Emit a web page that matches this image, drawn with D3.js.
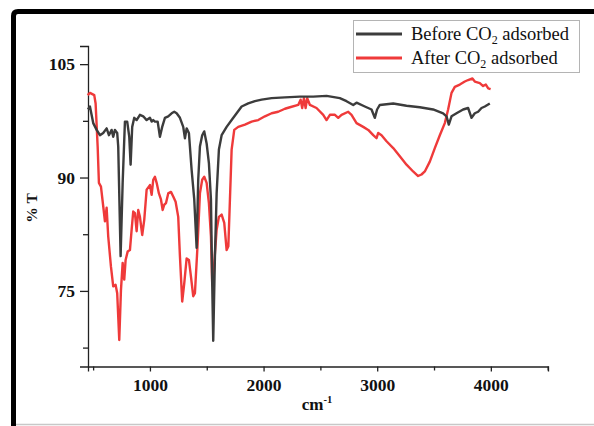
<html>
<head>
<script src="https://d3js.org/d3.v7.min.js"></script>
<style>
  body { margin: 0; background: #fff; }
  svg text { font-family: "Liberation Serif", "Times New Roman", serif; }
</style>
</head>
<body>
<svg id="vis"></svg>
<script>
// FTIR spectra, wavenumber (cm-1) and transmittance (%T)
const beforeWave = [455,472,501,531,560,589,619,639,663,677,692,712,721,742,760,780,800,818,830,844,862,883,912,941,971,1000,1015,1029,1044,1068,1088,1108,1132,1161,1191,1214,1235,1264,1293,1308,1323,1343,1367,1390,1411,1425,1440,1460,1478,1499,1519,1537,1548,1557,1572,1587,1607,1631,1675,1719,1763,1807,1865,1924,1983,2071,2188,2320,2437,2554,2671,2730,2789,2818,2891,2950,2979,2999,3023,3141,3258,3375,3492,3580,3610,3630,3654,3698,3756,3800,3830,3859,3888,3918,3947,3991];
const beforeT = [99.0,99.4,97.2,96.3,95.6,95.9,96.5,95.6,96.3,95.4,96.3,95.9,94.1,79.6,89.3,97.4,97.4,95.4,91.7,96.7,97.9,97.6,98.3,98.1,97.6,97.9,97.4,97.6,97.4,97.4,95.4,96.7,97.9,98.1,98.5,98.7,98.5,97.9,96.7,95.2,96.5,95.9,91.0,87.1,80.7,89.7,94.1,95.6,96.1,94.5,91.9,87.1,76.0,68.4,79.6,87.9,93.7,95.6,96.7,97.6,98.5,99.4,99.8,100.1,100.3,100.5,100.6,100.7,100.7,100.8,100.5,100.1,99.6,99.9,99.4,99.0,97.9,99.0,99.6,99.8,99.5,99.3,99.0,98.5,98.1,97.0,98.1,98.5,99.0,99.2,97.9,98.5,98.7,99.2,99.4,99.8];

const afterWave = [452,472,510,522,540,551,569,589,604,619,633,657,677,698,712,730,745,760,774,786,804,824,839,853,868,883,897,912,932,950,971,1000,1015,1029,1044,1059,1079,1097,1112,1126,1141,1161,1185,1205,1226,1249,1264,1284,1302,1323,1343,1361,1381,1396,1420,1440,1460,1478,1499,1519,1537,1548,1557,1566,1587,1607,1631,1654,1675,1690,1704,1719,1742,1777,1836,1895,1953,2012,2071,2129,2188,2232,2305,2326,2340,2355,2370,2384,2408,2466,2525,2554,2584,2628,2657,2686,2745,2774,2818,2877,2921,2965,2994,3009,3038,3082,3141,3199,3258,3316,3360,3390,3419,3463,3507,3551,3595,3624,3654,3683,3727,3771,3800,3838,3859,3903,3932,3956,3977,3998];
const afterT = [100.9,101.2,100.9,99.8,94.1,89.3,88.8,86.2,84.2,86.0,82.2,78.2,75.6,75.8,74.7,68.5,75.1,78.7,76.5,79.1,80.2,80.4,83.1,85.5,85.3,82.9,85.7,84.8,82.4,84.4,88.4,89.0,87.7,89.7,90.1,89.3,87.9,87.1,85.7,86.4,86.6,87.9,88.1,87.5,86.8,84.8,79.6,73.6,76.0,79.3,79.1,76.9,74.3,74.7,81.3,87.9,89.7,90.1,89.3,86.6,82.2,76.0,75.5,78.7,83.1,84.8,85.1,84.0,80.4,80.9,87.1,93.7,96.3,96.7,97.0,97.4,97.6,98.1,98.5,98.7,99.1,99.3,99.6,100.3,99.2,100.5,99.2,100.5,99.6,99.2,98.3,97.6,98.3,98.3,97.9,98.3,98.7,98.3,97.2,96.7,96.3,95.6,95.2,95.9,95.6,94.8,93.9,92.8,91.7,90.8,90.2,90.4,90.8,92.1,93.9,95.6,97.2,99.0,101.2,102.0,102.3,102.7,102.9,103.1,102.7,102.5,102.1,102.3,101.8,101.7];

const xMajor = [1000, 2000, 3000, 4000];
const xMinor = [500, 1500, 2500, 3500, 4500];
const yMajor = [75, 90, 105];
const yMinor = [67.5, 82.5, 97.5];

const seriesNames = ['Before', 'After'];
const seriesColors = ['#3c3c3c', '#ef3a3a'];

const width = 594, height = 426;
const svg = d3.select('#vis').attr('width', width).attr('height', height);

const x = d3.scaleLinear().domain([455, 4503]).range([88, 548]);
const y = d3.scaleLinear().domain([65, 107.4]).range([366.5, 46]);

// outer frame: thick black on left and top, light grey at the bottom
svg.append('path')
  .attr('d', 'M13.5,426 L13.5,16 Q13.5,11.5 18,11.5 L594,11.5')
  .attr('fill', 'none')
  .attr('stroke', '#000')
  .attr('stroke-width', 5);
svg.append('line')
  .attr('x1', 16).attr('x2', 594).attr('y1', 424.5).attr('y2', 424.5)
  .attr('stroke', '#c8c8c8').attr('stroke-width', 1.5);

// axes
svg.append('g').attr('transform', 'translate(0,366.5)')
  .call(d3.axisBottom(x).tickValues(xMajor).tickSize(5).tickPadding(7).tickFormat(d3.format('d')));
svg.append('g').attr('transform', 'translate(0,366.5)')
  .call(d3.axisBottom(x).tickValues(xMinor).tickSize(4).tickFormat(''))
  .select('.domain').remove();
svg.append('g').attr('transform', 'translate(88,0)')
  .call(d3.axisLeft(y).tickValues(yMajor).tickSize(8).tickPadding(5).tickFormat(d3.format('d')));
svg.append('g').attr('transform', 'translate(88,0)')
  .call(d3.axisLeft(y).tickValues(yMinor).tickSize(5).tickFormat(''))
  .select('.domain').remove();

svg.selectAll('.domain').attr('stroke', '#222').attr('stroke-width', 1.3);
svg.selectAll('.tick line').attr('stroke', '#222').attr('stroke-width', 1.3);
svg.selectAll('.tick text')
  .attr('font-family', '"Liberation Serif", serif')
  .attr('font-weight', 'bold')
  .attr('font-size', 17.5)
  .attr('fill', '#111');

// axis titles
const xt = svg.append('text')
  .attr('x', 317).attr('y', 410)
  .attr('text-anchor', 'middle')
  .attr('font-weight', 'bold').attr('font-size', 17).attr('fill', '#111');
xt.append('tspan').text('cm');
xt.append('tspan').attr('dy', -7).attr('font-size', 10.5).text('-1');

svg.append('text')
  .attr('transform', 'translate(37,208) rotate(-90)')
  .attr('text-anchor', 'middle')
  .attr('font-weight', 'bold').attr('font-size', 15.5).attr('fill', '#111')
  .text('% T');

// spectra
const line = d3.line().x(d => x(d[0])).y(d => y(d[1]));
const afterData = afterWave.map((w, i) => [w, afterT[i]]);
const beforeData = beforeWave.map((w, i) => [w, beforeT[i]]);

svg.append('path').datum(afterData)
  .attr('d', line)
  .attr('fill', 'none').attr('stroke', seriesColors[1])
  .attr('stroke-width', 2.4).attr('stroke-linejoin', 'round');
svg.append('path').datum(beforeData)
  .attr('d', line)
  .attr('fill', 'none').attr('stroke', seriesColors[0])
  .attr('stroke-width', 2.4).attr('stroke-linejoin', 'round');

// legend
const legend = svg.append('g');
legend.append('rect')
  .attr('x', 353.5).attr('y', 20.5).attr('width', 226).attr('height', 52)
  .attr('fill', '#fff').attr('stroke', '#b4b4b4').attr('stroke-width', 1);
seriesNames.forEach((name, i) => {
  const ly = 34 + i * 24;
  legend.append('line')
    .attr('x1', 356).attr('x2', 402).attr('y1', ly).attr('y2', ly)
    .attr('stroke', seriesColors[i]).attr('stroke-width', 3);
  const t = legend.append('text')
    .attr('x', 411).attr('y', ly + 6)
    .attr('font-size', 18.5).attr('fill', '#111');
  t.append('tspan').text(name + ' CO');
  t.append('tspan').attr('dy', 4).attr('font-size', 12).text('2');
  t.append('tspan').attr('dy', -4).text(' adsorbed');
});
</script>
</body>
</html>
